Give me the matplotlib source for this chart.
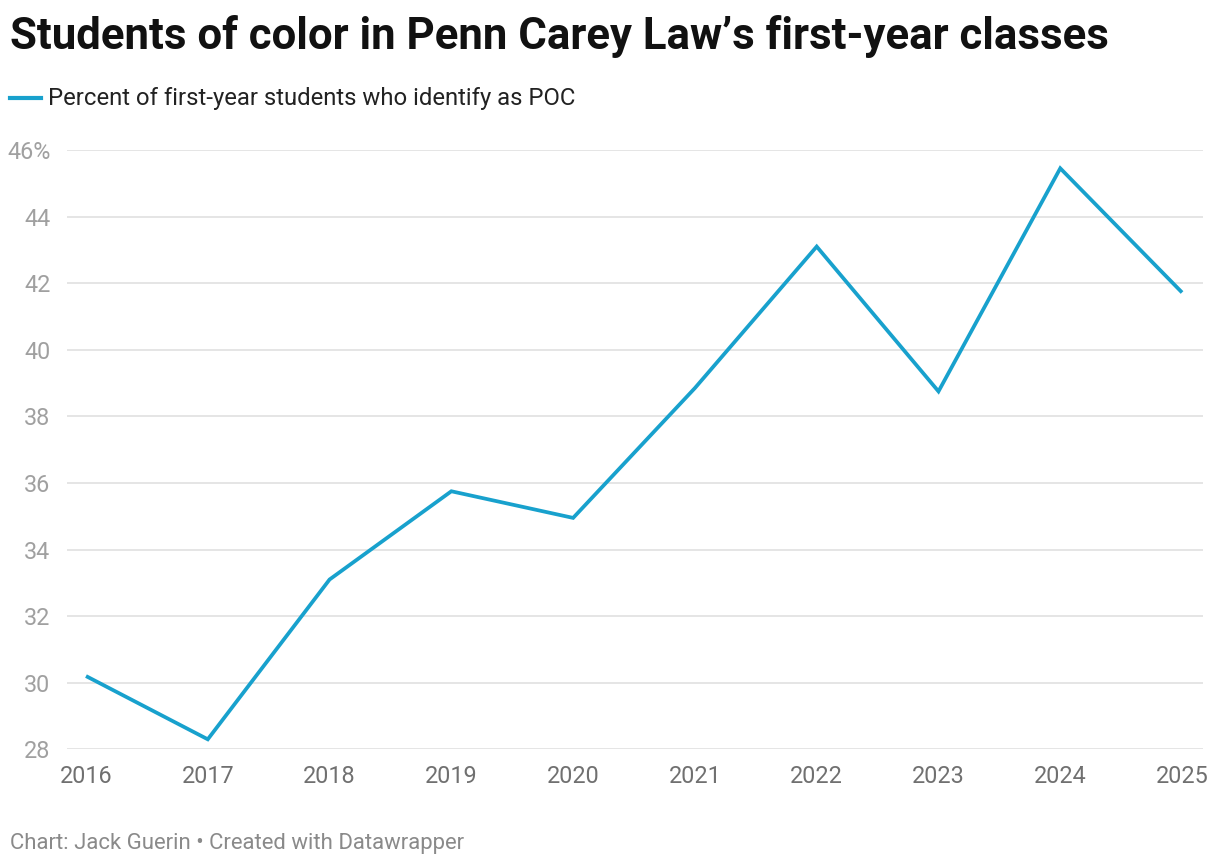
import matplotlib.pyplot as plt
from matplotlib.ticker import FixedLocator

plt.rcParams['font.family'] = ['Roboto', 'DejaVu Sans']

years = [2016, 2017, 2018, 2019, 2020, 2021, 2022, 2023, 2024, 2025]
poc_pct = [30.2, 28.3, 33.1, 35.75, 34.95, 38.85, 43.1, 38.75, 45.45, 41.72]
y_ticks = [28, 30, 32, 34, 36, 38, 40, 42, 44, 46]
y_labels = ['28', '30', '32', '34', '36', '38', '40', '42', '44', '46%']

fig = plt.figure(figsize=(12.2, 8.66), dpi=100)
ax = fig.add_axes([67 / 1220, 1 - 749.3 / 866, (1203 - 67) / 1220, (749.3 - 150) / 866])

ax.plot(years, poc_pct, color='#18a1cd', linewidth=2.7, solid_joinstyle='miter',
        solid_capstyle='butt', zorder=3)

ax.set_xlim(2015.844, 2025.172)
ax.set_ylim(28, 46)
ax.yaxis.set_major_locator(FixedLocator(y_ticks))
ax.set_yticklabels(y_labels)
ax.set_xticks(years)
ax.set_xticklabels([str(y) for y in years])

ax.grid(axis='y', color='#e3e3e3', linewidth=1.3, zorder=0)
ax.grid(axis='x', visible=False)
for s in ax.spines.values():
    s.set_visible(False)
ax.tick_params(axis='both', length=0)
ax.tick_params(axis='y', pad=12, labelsize=16.8, labelcolor='#a0a0a0')
ax.tick_params(axis='x', pad=11.5, labelsize=16.8, labelcolor='#707070')

fig.text(10 / 1220, 1 - 36 / 866, 'Students of color in Penn Carey Law\u2019s first-year classes',
         fontsize=31.5, fontweight='bold', color='#111111', va='center', ha='left')

# legend line + label
fig.add_artist(plt.Line2D([10 / 1220, 41 / 1220], [1 - 98 / 866, 1 - 98 / 866],
                          color='#18a1cd', linewidth=3))
fig.text(48 / 1220, 1 - 98 / 866, 'Percent of first-year students who identify as POC',
         fontsize=17.2, color='#222222', va='center', ha='left')

fig.text(10 / 1220, 1 - 843 / 866, 'Chart: Jack Guerin \u2022 Created with Datawrapper',
         fontsize=15.9, color='#8a8a8a', va='center', ha='left')

fig.savefig('out.png', dpi=100, facecolor='white')
